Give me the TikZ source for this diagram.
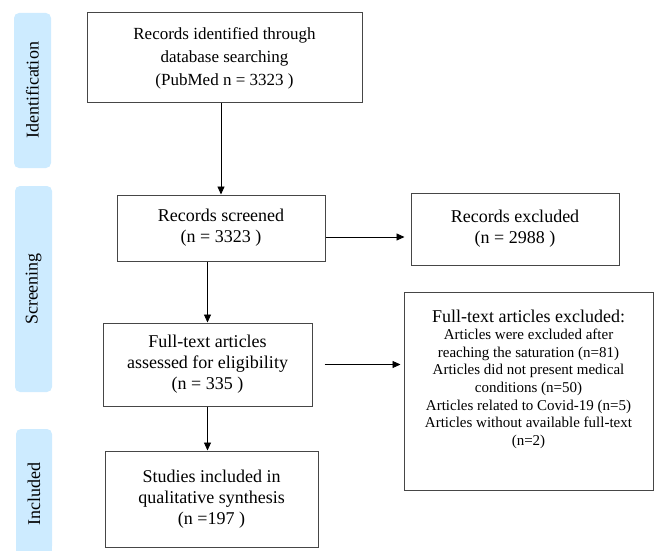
\documentclass[tikz,border=0pt]{standalone}
\usepackage{fontspec}
\setmainfont{Liberation Serif}
\usetikzlibrary{arrows.meta,positioning}

\definecolor{phase}{RGB}{205,235,255}
\definecolor{frame}{RGB}{70,70,70}

\begin{document}
\begin{tikzpicture}[x=1pt,y=-1pt,
  box/.style={draw=frame,line width=1pt,inner sep=0pt,align=center,font=\fontsize{18}{21}\selectfont},
  phasebar/.style={fill=phase,rounded corners=5pt,inner sep=0pt,minimum height=37pt,rotate=90,font=\fontsize{18}{21}\selectfont},
  arr/.style={-{Triangle[length=8pt,width=7pt]},line width=0.9pt}]
\useasboundingbox (0,0) rectangle (654,551);

\node[phasebar,minimum width=155pt] (pident) at (32.5,90.5) {Identification};
\node[phasebar,minimum width=206pt] (pscreen) at (33.5,289) {Screening};
\fill[phase,rounded corners=5pt] (16,429) rectangle (52,551);
\fill[phase] (16,540) rectangle (52,551);
\node[rotate=90,inner sep=0pt,font=\fontsize{18}{21}\selectfont] (pincl) at (34,494) {Included};

\node[box,minimum width=275pt,minimum height=90pt,font=\fontsize{17}{23}\selectfont] (ident) at (224.5,58) {Records identified through\\database searching\\(PubMed n = 3323 )};
\node[box,minimum width=208pt,minimum height=66pt] (screen) at (221,228) {Records screened\\(n = 3323 )};
\node[box,minimum width=208pt,minimum height=72pt] (excl) at (515,229) {Records excluded\\(n = 2988 )};
\node[box,minimum width=209pt,minimum height=83pt] (elig) at (207.5,364.5) {Full-text articles\\assessed for eligibility\\(n = 335 )};
\node[box,minimum width=249pt,minimum height=198pt] (ftex) at (528.5,391) {};
\node[inner sep=0pt,align=center,below=18pt of ftex.north,font=\fontsize{15}{17.6}\selectfont] (ftextxt) {{\fontsize{18}{18}\selectfont Full-text articles excluded:}\\Articles were excluded after\\reaching the saturation (n=81)\\Articles did not present medical\\conditions (n=50)\\Articles related to Covid-19 (n=5)\\Articles without available full-text\\(n=2)};
\node[box,minimum width=213pt,minimum height=96pt] (incl) at (211.5,499) {Studies included in\\qualitative synthesis\\(n =197 )};

\draw[arr] (ident.south -| screen.north) -- (screen.north);
\draw[arr,shorten >=6pt] ([yshift=-9pt]screen.east) -- ([yshift=-9pt]screen.east -| excl.west);
\draw[arr] (screen.south -| elig.north) -- (elig.north);
\draw[arr,shorten <=12pt,shorten >=3pt] (elig.east) -- (elig.east -| ftex.west);
\draw[arr] (elig.south) -- (elig.south |- incl.north);
\end{tikzpicture}
\end{document}
